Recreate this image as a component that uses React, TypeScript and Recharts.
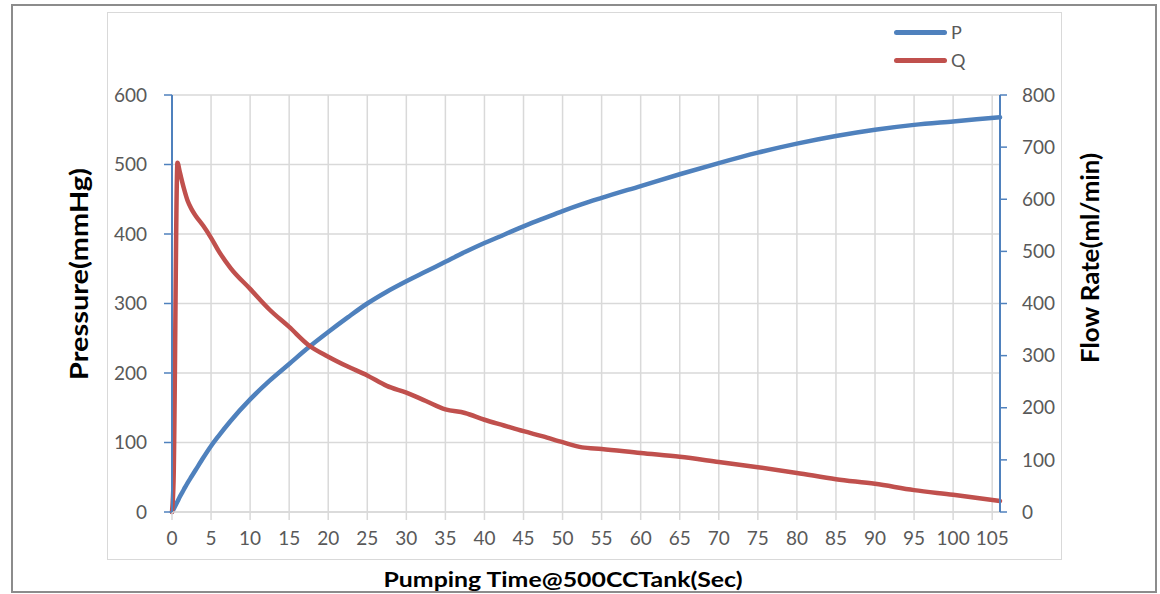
import { LineChart, Line, XAxis, YAxis, CartesianGrid, Legend, Label } from 'recharts';

// pumping time (s)
const time = [0, 0.2, 0.7, 1, 1.5, 2, 2.5, 3, 4, 5, 6, 7.5, 10, 12.5, 15, 17.5, 20, 22.5, 25, 27.5, 30, 32.5, 35, 37.5, 40, 42.5, 45, 47.5, 50, 52.5, 55, 60, 65, 70, 75, 80, 85, 90, 95, 100, 106];
// P, pressure (mmHg)
const pressure = [0, 4, 15, 22, 32, 42, 51, 60, 78, 95, 110, 131, 162, 189, 213, 237, 259, 280, 300, 317, 332, 346, 360, 374, 387, 399, 411, 422, 433, 443, 452, 469, 486, 502, 517, 530, 541, 550, 557, 562, 568];
// Q, flow rate (ml/min)
const flow = [0, 60, 670, 652, 622, 597, 581, 569, 549, 526, 500, 468, 428, 388, 355, 320, 298, 279, 262, 242, 229, 213, 197, 190, 177, 166, 155, 145, 134, 124, 121, 113, 106, 96, 86, 75, 63, 54, 42, 33, 21];

const timeTicks = [0, 5, 10, 15, 20, 25, 30, 35, 40, 45, 50, 55, 60, 65, 70, 75, 80, 85, 90, 95, 100, 105];
const pressureTicks = [0, 100, 200, 300, 400, 500, 600];
const flowTicks = [0, 100, 200, 300, 400, 500, 600, 700, 800];

const data = time.map((t, i) => ({ t, P: pressure[i], Q: flow[i] }));

const FONT = 'Lato, "Open Sans", sans-serif';
const BLUE = '#4f81bd';
const RED = '#c0504d';
const GRID = '#d9d9d9';
const TICK = { fill: '#595959', fontSize: 19, fontFamily: FONT };

const LegendBox = () => (
  <div style={{ fontFamily: FONT, fontSize: 18, color: '#595959' }}>
    {[{ name: 'P', color: BLUE }, { name: 'Q', color: RED }].map((s) => (
      <div key={s.name} style={{ display: 'flex', alignItems: 'center', height: 28 }}>
        <span style={{ display: 'inline-block', width: 53, height: 5, borderRadius: 3, background: s.color }} />
        <span style={{ marginLeft: 4 }}>{s.name}</span>
      </div>
    ))}
  </div>
);

const App = () => {
  return (
    <div style={{ position: 'absolute', left: 0, top: 0, width: 1160, height: 594, background: '#fff' }}>
      <div style={{ position: 'absolute', left: 11, top: 4, width: 1142, height: 585, border: '2px solid #8c8c8c' }} />
      <div style={{ position: 'absolute', left: 107, top: 12, width: 953, height: 546, border: '1.5px solid #d9d9d9' }} />
      <div style={{ position: 'absolute', left: 0, top: 0 }}>
        <LineChart width={1160} height={594} data={data} margin={{ top: 95, right: 100, left: 112, bottom: 52 }}>
          <CartesianGrid yAxisId="left" stroke={GRID} strokeWidth={1.5} horizontalValues={pressureTicks} verticalValues={timeTicks} />
          <XAxis
            dataKey="t"
            type="number"
            domain={[0, 106]}
            ticks={timeTicks}
            interval={0}
            height={30}
            tick={TICK}
            tickSize={8}
            tickMargin={12}
            tickLine={{ stroke: GRID, strokeWidth: 1.5 }}
            axisLine={{ stroke: GRID, strokeWidth: 1.5 }}
          >
            <Label
              content={() => (
                <text x={563} y={587} textAnchor="middle" textLength={359} lengthAdjust="spacingAndGlyphs" fontFamily={FONT} fontSize={21} fontWeight="bold" fill="#000">
                  Pumping Time@500CCTank(Sec)
                </text>
              )}
            />
          </XAxis>
          <YAxis
            yAxisId="left"
            domain={[0, 600]}
            ticks={pressureTicks}
            width={60}
            tick={TICK}
            tickSize={8}
            tickMargin={17}
            tickLine={{ stroke: BLUE, strokeWidth: 1.5 }}
            axisLine={{ stroke: BLUE, strokeWidth: 2 }}
          >
            <Label
              content={() => (
                <text x={88} y={274} transform="rotate(-90 88 274)" textAnchor="middle" textLength={212} lengthAdjust="spacingAndGlyphs" fontFamily={FONT} fontSize={25} fontWeight="bold" fill="#000">
                  Pressure(mmHg)
                </text>
              )}
            />
          </YAxis>
          <YAxis
            yAxisId="right"
            orientation="right"
            domain={[0, 800]}
            ticks={flowTicks}
            width={60}
            tick={TICK}
            tickSize={7}
            tickMargin={15}
            tickLine={{ stroke: BLUE, strokeWidth: 1.5 }}
            axisLine={{ stroke: BLUE, strokeWidth: 2 }}
          >
            <Label
              content={() => (
                <text x={1099} y={258} transform="rotate(-90 1099 258)" textAnchor="middle" textLength={210} lengthAdjust="spacingAndGlyphs" fontFamily={FONT} fontSize={25} fontWeight="bold" fill="#000">
                  Flow Rate(ml/min)
                </text>
              )}
            />
          </YAxis>
          <Legend
            layout="vertical"
            align="center"
            verticalAlign="middle"
            wrapperStyle={{ left: 894, top: 18, width: 90 }}
            content={() => <LegendBox />}
          />
          <Line yAxisId="left" type="monotone" dataKey="P" stroke={BLUE} strokeWidth={4.5} strokeLinecap="round" dot={false} isAnimationActive={false} />
          <Line yAxisId="right" type="monotone" dataKey="Q" stroke={RED} strokeWidth={4.5} strokeLinecap="round" dot={false} isAnimationActive={false} />
        </LineChart>
      </div>
    </div>
  );
};

export default App;
